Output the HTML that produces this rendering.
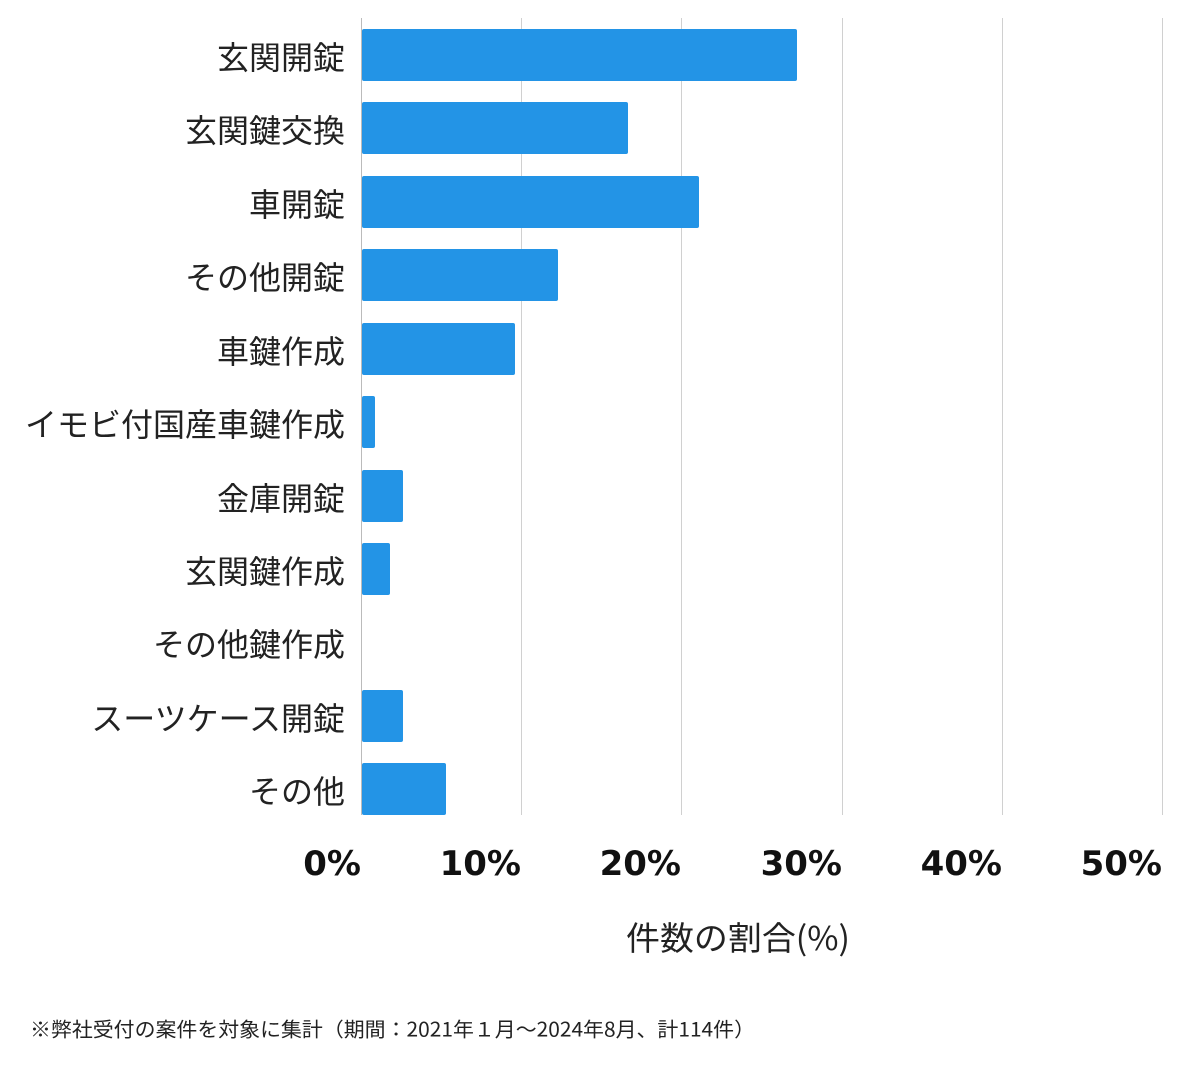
<!DOCTYPE html>
<html><head><meta charset="utf-8"><style>
html,body{margin:0;padding:0;background:#fff;}
body{width:1200px;height:1069px;overflow:hidden;}
svg text{font-family:"Noto Sans CJK JP","Liberation Sans",sans-serif;}
svg text.tick{font-family:"DejaVu Sans",sans-serif;font-weight:bold;}
</style></head><body>
<svg width="1200" height="1069" xmlns="http://www.w3.org/2000/svg">
<g stroke="#d0d0d0" stroke-width="1">
<line x1="521.5" y1="18" x2="521.5" y2="815"/>
<line x1="681.5" y1="18" x2="681.5" y2="815"/>
<line x1="842.5" y1="18" x2="842.5" y2="815"/>
<line x1="1002.5" y1="18" x2="1002.5" y2="815"/>
<line x1="1162.5" y1="18" x2="1162.5" y2="815"/>
</g>
<line x1="361.5" y1="18" x2="361.5" y2="815" stroke="#bbbbbb" stroke-width="1"/>
<g fill="#2394e6">
<rect x="362" y="29" width="435" height="52" rx="2"/>
<rect x="362" y="102" width="266" height="52" rx="2"/>
<rect x="362" y="176" width="337" height="52" rx="2"/>
<rect x="362" y="249" width="196" height="52" rx="2"/>
<rect x="362" y="323" width="153" height="52" rx="2"/>
<rect x="362" y="396" width="13" height="52" rx="2"/>
<rect x="362" y="470" width="41" height="52" rx="2"/>
<rect x="362" y="543" width="28" height="52" rx="2"/>
<rect x="362" y="690" width="41" height="52" rx="2"/>
<rect x="362" y="763" width="84" height="52" rx="2"/>
</g>
<g font-size="32" font-weight="400" fill="#222" text-anchor="end" dominant-baseline="central">
<text x="345" y="56">玄関開錠</text>
<text x="345" y="129">玄関鍵交換</text>
<text x="345" y="203">車開錠</text>
<text x="345" y="276">その他開錠</text>
<text x="345" y="350">車鍵作成</text>
<text x="345" y="423">イモビ付国産車鍵作成</text>
<text x="345" y="497">金庫開錠</text>
<text x="345" y="570">玄関鍵作成</text>
<text x="345" y="643">その他鍵作成</text>
<text x="345" y="717">スーツケース開錠</text>
<text x="345" y="790">その他</text>
</g>
<g font-size="34" fill="#111" text-anchor="end" dominant-baseline="central">
<text class="tick" x="361" y="864">0%</text>
<text class="tick" x="521" y="864">10%</text>
<text class="tick" x="681" y="864">20%</text>
<text class="tick" x="842" y="864">30%</text>
<text class="tick" x="1002" y="864">40%</text>
<text class="tick" x="1162" y="864">50%</text>
</g>
<text x="626" y="936" font-size="33" fill="#222" dominant-baseline="central" textLength="224" lengthAdjust="spacingAndGlyphs">件数の割合(%)</text>
<text x="30" y="1028" font-size="20" fill="#222" dominant-baseline="central" textLength="725" lengthAdjust="spacingAndGlyphs">※弊社受付の案件を対象に集計（期間：2021年１月〜2024年8月、計114件）</text>
</svg>
</body></html>
